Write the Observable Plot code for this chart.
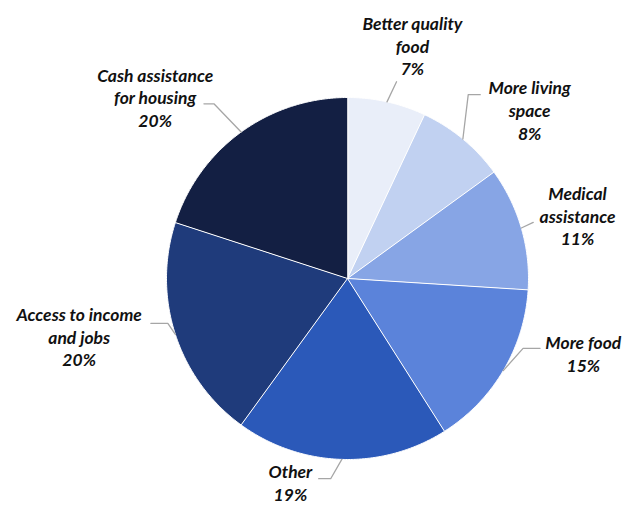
<!DOCTYPE html>
<html>
<head>
<meta charset="utf-8">
<script src="https://cdn.jsdelivr.net/npm/d3@7"></script>
<script src="https://cdn.jsdelivr.net/npm/@observablehq/plot@0.6"></script>
<style>
  html, body { margin: 0; padding: 0; background: #fff; }
  #chart { width: 627px; height: 505px; }
</style>
</head>
<body>
<div id="chart"></div>
<script>
// ---- data ----
const categories = ["Better quality food", "More living space", "Medical assistance", "More food", "Other", "Access to income and jobs", "Cash assistance for housing"];
const shares = [7, 8, 11, 15, 19, 20, 20];
const labelLines = ["Better quality\nfood", "More living\nspace", "Medical\nassistance", "More food", "Other", "Access to income\nand jobs", "Cash assistance\nfor housing"];

// ---- style ----
const palette = ["#e9eef9", "#c1d1f1", "#87a5e5", "#5b83da", "#2b59b9", "#1f3b7b", "#131f43"];

// ---- annotation layout (polar: degrees clockwise from top, radius in pie radii) ----
const labelAngle = [15.7, 47.5, 75.1, 108, 195.5, 257.4, 313];
const labelDist = [1.326, 1.365, 1.315, 1.37, 1.18, 1.519, 1.453];
const elbowAngle = [14, 33.3, 73.2, 111.7, 184.8, 256, 322.6];
const elbowDist = [1.12, 1.215, 1.072, 1.044, 1.11, 1.023, 1.215];
const tailLen = [0, 12, 0, 17, -12, -17, -10];

const W = 627, H = 505, R = 181, CX = 347, CY = 278;
const polar = (deg, dist) => {
  const a = deg * Math.PI / 180;
  return [dist * R * Math.sin(a), dist * R * Math.cos(a)];
};

const arcs = d3.pie().sort(null).value(d => d)(shares);

// slice polygons
const slices = [];
arcs.forEach((a, i) => {
  const cat = categories[i];
  slices.push({cat, x: 0, y: 0});
  const a0 = a.startAngle * 180 / Math.PI, a1 = a.endAngle * 180 / Math.PI;
  const n = Math.max(2, Math.ceil((a1 - a0) / 0.5));
  for (let k = 0; k <= n; k++) {
    const [x, y] = polar(a0 + (a1 - a0) * k / n, 1);
    slices.push({cat, x, y});
  }
});

// leader lines
const leaders = [];
arcs.forEach((a, i) => {
  const cat = categories[i];
  const mid = (a.startAngle + a.endAngle) / 2 * 180 / Math.PI;
  const p0 = polar(mid, 1);
  const p1 = polar(elbowAngle[i], elbowDist[i]);
  leaders.push({cat, x: p0[0], y: p0[1]});
  leaders.push({cat, x: p1[0], y: p1[1]});
  if (tailLen[i] !== 0) leaders.push({cat, x: p1[0] + tailLen[i], y: p1[1]});
});

// labels
const labels = categories.map((cat, i) => {
  const [x, y] = polar(labelAngle[i], labelDist[i]);
  return {cat, x, y, text: labelLines[i] + "\n" + shares[i] + "%"};
});

const chart = Plot.plot({
  width: W,
  height: H,
  margin: 0,
  x: {domain: [-CX, W - CX], axis: null},
  y: {domain: [-(H - CY), CY], axis: null},
  color: {domain: categories, range: palette},
  marks: [
    Plot.line(slices, {x: "x", y: "y", z: "cat", fill: "cat", stroke: "#ffffff", strokeWidth: 1, curve: "linear-closed"}),
    Plot.line(leaders, {x: "x", y: "y", z: "cat", stroke: "#a6a6a6", strokeWidth: 1.3}),
    Plot.text(labels, {x: "x", y: "y", dy: -2, text: "text", fontSize: 17.5, fontWeight: "bold", fontStyle: "italic", lineHeight: 1.3, fill: "#111111", textAnchor: "middle"})
  ],
  style: {fontFamily: "Lato, 'Open Sans', sans-serif", background: "#fff"}
});
document.getElementById("chart").appendChild(chart);
</script>
</body>
</html>
